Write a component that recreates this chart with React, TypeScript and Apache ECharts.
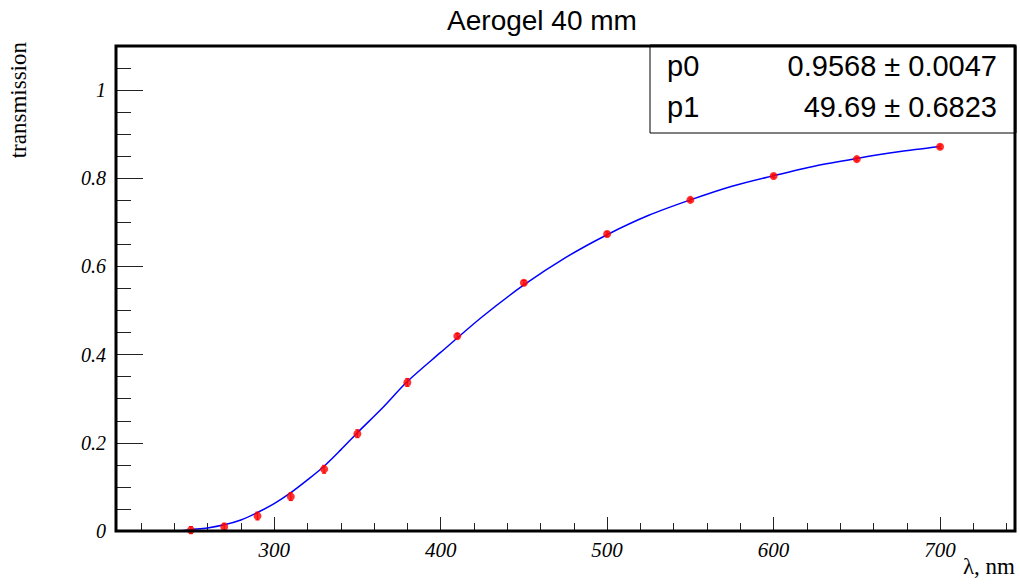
import React, { useEffect, useRef } from "react";
import * as echarts from "echarts";

// Measured points
const wavelengths = [250, 270, 290, 310, 330, 350, 380, 410, 450, 500, 550, 600, 650, 700];
const transmission = [0.002, 0.0098, 0.034, 0.078, 0.14, 0.2207, 0.337, 0.442, 0.563, 0.6735, 0.751, 0.805, 0.8435, 0.8714];
const errors = [0.008, 0.008, 0.009, 0.009, 0.009, 0.009, 0.009, 0.006, 0.005, 0.005, 0.004, 0.004, 0.004, 0.004];

// Fit curve
const fitWavelength = [243, 250, 260, 270, 280, 290, 300, 310, 320, 330, 340, 350, 365, 380, 400, 425, 450, 475, 500, 525, 550, 575, 600, 625, 650, 675, 700];
const fitTransmission = [0.0, 0.003, 0.007, 0.014, 0.025, 0.042, 0.062, 0.087, 0.116, 0.147, 0.184, 0.223, 0.279, 0.339, 0.405, 0.486, 0.558, 0.620, 0.672, 0.716, 0.751, 0.782, 0.806, 0.828, 0.845, 0.860, 0.872];

// Axis ticks
const xMajor = [300, 400, 500, 600, 700];
const xMinor = [220, 240, 260, 280, 320, 340, 360, 380, 420, 440, 460, 480, 520, 540, 560, 580, 620, 640, 660, 680, 720, 740];
const yMajor = [0, 0.2, 0.4, 0.6, 0.8, 1];
const yMinor = [0.05, 0.1, 0.15, 0.25, 0.3, 0.35, 0.45, 0.5, 0.55, 0.65, 0.7, 0.75, 0.85, 0.9, 0.95, 1.05];

const title = "Aerogel 40 mm";
const fitParams = [
  { name: "p0", value: "0.9568 \u00b1 0.0047" },
  { name: "p1", value: "49.69 \u00b1 0.6823" },
];

export default function App() {
  const ref = useRef<HTMLDivElement>(null);
  useEffect(() => {
    document.body.style.margin = "0";
    const chart = echarts.init(ref.current!, undefined, { renderer: "svg" });
    const serif = "Liberation Serif";
    const sans = "Liberation Sans";
    const left = 116, top = 46, right = 1015, bottom = 531;
    const option: any = {
      animation: false,
      backgroundColor: "#fff",
      grid: {
        left,
        top,
        width: right - left,
        height: bottom - top,
        show: true,
        borderColor: "#000",
        borderWidth: 3,
        backgroundColor: "transparent",
        z: 10,
      },
      xAxis: [
        {
          type: "value",
          min: 205,
          max: 745,
          position: "bottom",
          axisLine: { show: false },
          splitLine: { show: false },
          axisTick: { show: true, inside: true, length: 14, customValues: xMajor, lineStyle: { color: "#222", width: 1 } },
          axisLabel: {
            customValues: xMajor,
            fontFamily: serif,
            fontStyle: "italic",
            fontSize: 21,
            color: "#000",
            margin: 8,
          },
        },
        {
          type: "value",
          min: 205,
          max: 745,
          position: "bottom",
          axisLine: { show: false },
          splitLine: { show: false },
          axisTick: { show: true, inside: true, length: 8, customValues: xMinor, lineStyle: { color: "#222", width: 1 } },
          axisLabel: { show: false },
        },
      ],
      yAxis: [
        {
          type: "value",
          min: 0,
          max: 1.1,
          position: "left",
          axisLine: { show: false },
          splitLine: { show: false },
          axisTick: { show: true, inside: true, length: 27, customValues: yMajor, lineStyle: { color: "#222", width: 1 } },
          axisLabel: {
            customValues: yMajor,
            formatter: (v: number) => String(v),
            fontFamily: serif,
            fontStyle: "italic",
            fontSize: 20,
            color: "#000",
            margin: 10,
          },
        },
        {
          type: "value",
          min: 0,
          max: 1.1,
          position: "left",
          axisLine: { show: false },
          splitLine: { show: false },
          axisTick: { show: true, inside: true, length: 15, customValues: yMinor, lineStyle: { color: "#222", width: 1 } },
          axisLabel: { show: false },
        },
      ],
      series: [
        {
          type: "line",
          xAxisIndex: 0,
          yAxisIndex: 0,
          data: fitWavelength.map((x, i) => [x, fitTransmission[i]]),
          showSymbol: false,
          smooth: 0.3,
          lineStyle: { color: "#0000ff", width: 1.5 },
          z: 3,
        },
        {
          type: "custom",
          xAxisIndex: 0,
          yAxisIndex: 0,
          data: wavelengths.map((x, i) => [x, transmission[i] - errors[i], transmission[i] + errors[i]]),
          renderItem: (params: any, api: any) => {
            const lo = api.coord([api.value(0), api.value(1)]);
            const hi = api.coord([api.value(0), api.value(2)]);
            const style = { stroke: "#ff0000", lineWidth: 1 };
            return {
              type: "group",
              children: [
                { type: "line", shape: { x1: lo[0], y1: lo[1], x2: hi[0], y2: hi[1] }, style },
                { type: "line", shape: { x1: lo[0] - 2, y1: lo[1], x2: lo[0] + 2, y2: lo[1] }, style },
                { type: "line", shape: { x1: hi[0] - 2, y1: hi[1], x2: hi[0] + 2, y2: hi[1] }, style },
              ],
            };
          },
          z: 4,
        },
        {
          type: "scatter",
          xAxisIndex: 0,
          yAxisIndex: 0,
          data: wavelengths.map((x, i) => [x, transmission[i]]),
          symbol: "circle",
          symbolSize: 8,
          itemStyle: { color: "#ff0000" },
          z: 5,
        },
      ],
      graphic: [
        {
          type: "text",
          x: 542,
          y: 20,
          style: { text: title, font: `28px ${sans}`, fill: "#000", textAlign: "center", textVerticalAlign: "middle" },
        },
        {
          type: "text",
          x: 1015,
          y: 566,
          style: { text: "\u03bb, nm", font: `23px ${serif}`, fill: "#000", textAlign: "right", textVerticalAlign: "middle" },
        },
        {
          type: "text",
          x: 18,
          y: 42,
          rotation: Math.PI / 2,
          style: { text: "transmission", font: `23px ${serif}`, fill: "#000", textAlign: "right", textVerticalAlign: "middle" },
        },
        {
          type: "rect",
          shape: { x: 650, y: 46, width: right - 650, height: 87 },
          style: { fill: "#fff", stroke: "#000", lineWidth: 1 },
          z: 20,
        },
        ...fitParams.flatMap((p, i) => [
          {
            type: "text",
            x: 667,
            y: 66 + i * 41,
            z: 21,
            style: { text: p.name, font: `29px ${sans}`, fill: "#000", textAlign: "left", textVerticalAlign: "middle" },
          },
          {
            type: "text",
            x: 997,
            y: 66 + i * 41,
            z: 21,
            style: { text: p.value, font: `29px ${sans}`, fill: "#000", textAlign: "right", textVerticalAlign: "middle" },
          },
        ]),
        {
          type: "line",
          shape: { x1: right, y1: 46, x2: right, y2: 133 },
          style: { stroke: "#000", lineWidth: 3 },
          z: 22,
        },
        {
          type: "line",
          shape: { x1: 650, y1: 46, x2: right, y2: 46 },
          style: { stroke: "#000", lineWidth: 3 },
          z: 22,
        },
      ],
    };
    chart.setOption(option);
    return () => chart.dispose();
  }, []);
  return <div ref={ref} style={{ width: 1020, height: 586 }} />;
}
